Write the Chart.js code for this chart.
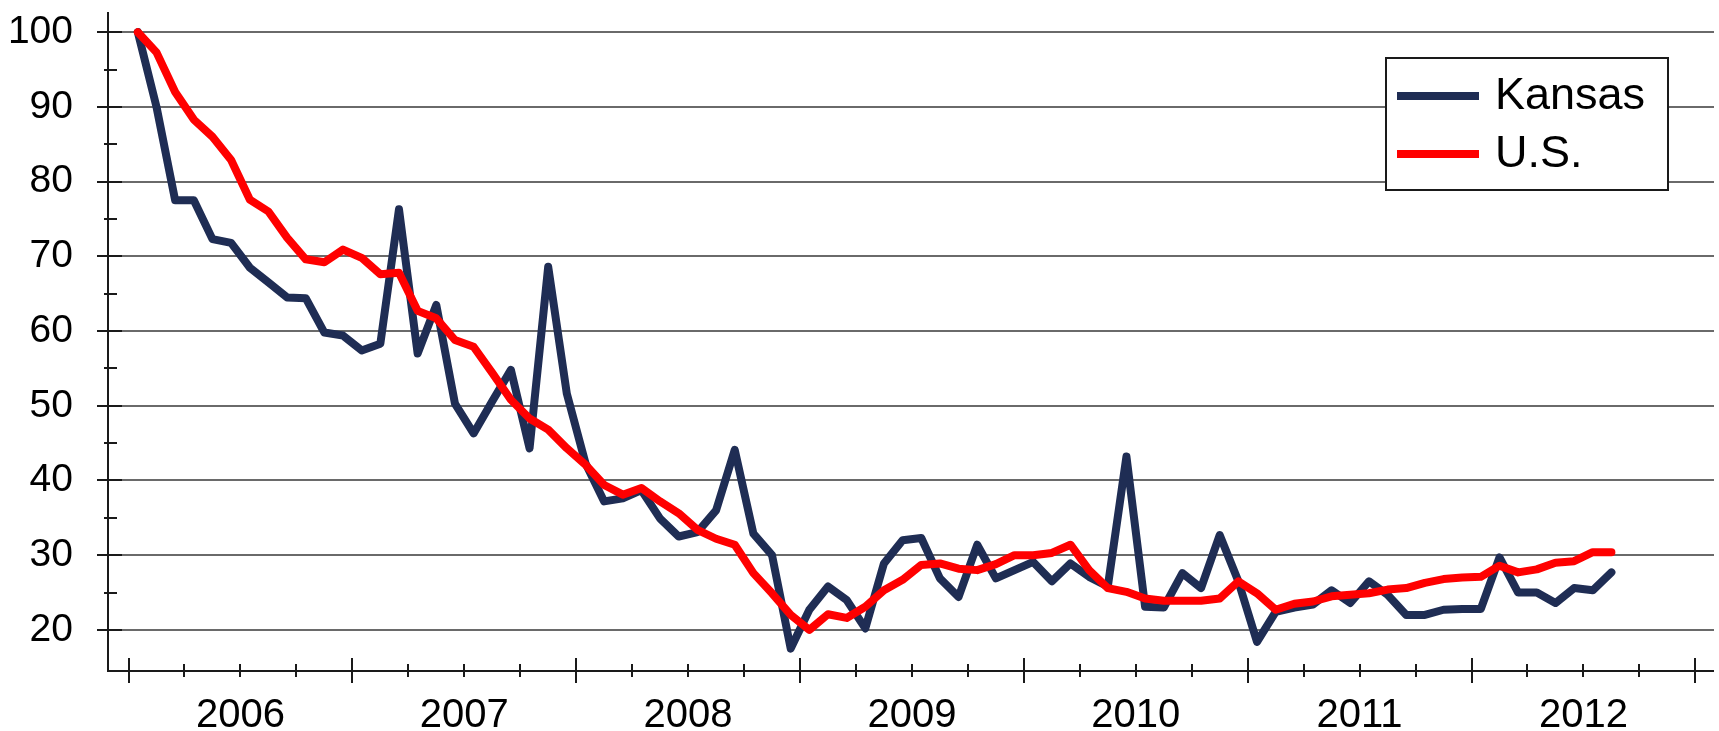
<!DOCTYPE html>
<html>
<head>
<meta charset="utf-8">
<script src="https://cdn.jsdelivr.net/npm/chart.js@4.4.1/dist/chart.umd.min.js"></script>
<style>
  html, body { margin: 0; padding: 0; background: #fff; }
</style>
</head>
<body>
<canvas id="myChart" width="1719" height="731"></canvas>
<script>
// monthly index, Jan 2006 = 100
const years = ['2006', '2007', '2008', '2009', '2010', '2011', '2012'];
const kansas = [
  100, 90, 77.5, 77.5, 72.3, 71.8, 68.5, 66.5, 64.5, 64.4, 59.8, 59.4,
  57.4, 58.3, 76.3, 57, 63.5, 50.3, 46.3, 50.6, 54.8, 44.3, 68.6, 51.6,
  42.3, 37.2, 37.6, 38.7, 34.9, 32.5, 33.1, 36, 44.1, 32.9, 30, 17.5,
  22.7, 25.8, 24, 20.2, 28.9, 32, 32.3, 26.9, 24.4, 31.4, 26.9, 28,
  29.1, 26.5, 28.9, 27.1, 25.8, 43.2, 23.1, 23, 27.6, 25.6, 32.7, 26.5,
  18.4, 22.4, 23, 23.4, 25.3, 23.6, 26.5, 24.7, 22, 22, 22.7, 22.8,
  22.8, 29.7, 25, 25, 23.6, 25.6, 25.3, 27.7
];
const us = [
  100, 97.3, 92, 88.3, 86, 82.9, 77.6, 76, 72.5, 69.6, 69.2, 70.9,
  69.8, 67.6, 67.8, 62.7, 61.7, 58.8, 57.9, 54.4, 50.8, 48.3, 46.8, 44.3,
  42.1, 39.4, 38.1, 39, 37.2, 35.6, 33.4, 32.2, 31.4, 27.6, 24.9, 22,
  20, 22.1, 21.6, 23.1, 25.3, 26.7, 28.7, 28.9, 28.2, 28, 28.8, 30,
  30, 30.3, 31.4, 28, 25.6, 25.1, 24.2, 23.9, 23.9, 23.9, 24.2, 26.5,
  24.9, 22.7, 23.5, 23.8, 24.5, 24.7, 24.9, 25.4, 25.6, 26.3, 26.8, 27,
  27.1, 28.6, 27.7, 28.1, 29, 29.2, 30.4, 30.4
];
const yTicks = [20, 30, 40, 50, 60, 70, 80, 90, 100];
const yMinorTicks = [25, 35, 45, 55, 65, 75, 85, 95];

// month number counted from Jan 2006, plotted mid-month
const toPoints = arr => arr.map((v, i) => ({ x: i + 0.5, y: v }));

const axisPlugin = {
    id: 'axisPlugin',
    afterDraw(chart) {
        const { ctx, chartArea: a, scales: { x, y } } = chart;
        ctx.save();
        ctx.strokeStyle = '#1a1a1a';
        ctx.lineWidth = 2;
        ctx.beginPath();
        ctx.moveTo(a.left, a.top);
        ctx.lineTo(a.left, a.bottom);
        ctx.lineTo(a.right, a.bottom);
        yTicks.forEach(v => {
            const py = Math.round(y.getPixelForValue(v));
            ctx.moveTo(a.left - 11, py);
            ctx.lineTo(a.left + 14, py);
        });
        yMinorTicks.forEach(v => {
            const py = Math.round(y.getPixelForValue(v));
            ctx.moveTo(a.left - 4, py);
            ctx.lineTo(a.left + 9, py);
        });
        // quarterly ticks, long ones at year boundaries
        for (let m = 0; m <= years.length * 12; m += 3) {
            const px = Math.round(x.getPixelForValue(m));
            const major = m % 12 === 0;
            ctx.moveTo(px, a.bottom - (major ? 13 : 7));
            ctx.lineTo(px, a.bottom + (major ? 12 : 6));
        }
        ctx.stroke();

        // legend box
        const bx = 1386, by = 58, bw = 282, bh = 132;
        ctx.fillStyle = '#fff';
        ctx.fillRect(bx, by, bw, bh);
        ctx.strokeStyle = '#1a1a1a';
        ctx.lineWidth = 2;
        ctx.strokeRect(bx, by, bw, bh);
        ctx.font = '45px "Liberation Sans", Arial, sans-serif';
        ctx.textBaseline = 'middle';
        ctx.fillStyle = '#000';
        chart.data.datasets.forEach((ds, i) => {
            const ly = by + 38 + i * 58;
            ctx.strokeStyle = ds.borderColor;
            ctx.lineWidth = 8;
            ctx.beginPath();
            ctx.moveTo(bx + 11, ly);
            ctx.lineTo(bx + 93, ly);
            ctx.stroke();
            ctx.fillText(ds.label, bx + 109, ly + 1);
        });
        ctx.restore();
    }
};

const ctx = document.getElementById('myChart').getContext('2d');
new Chart(ctx, {
    type: 'line',
    data: {
        datasets: [
            {
                label: 'Kansas',
                data: toPoints(kansas),
                borderColor: '#1f2d54',
                borderWidth: 8,
                pointRadius: 0,
                borderJoinStyle: 'round',
                borderCapStyle: 'round',
                order: 1,
            },
            {
                label: 'U.S.',
                data: toPoints(us),
                borderColor: '#ff0000',
                borderWidth: 8,
                pointRadius: 0,
                borderJoinStyle: 'round',
                borderCapStyle: 'round',
                order: 0,
            },
        ],
    },
    options: {
        responsive: false,
        animation: false,
        layout: { padding: { top: 12, right: 5, left: 0, bottom: 0 } },
        plugins: {
            legend: { display: false },
            tooltip: { enabled: false },
        },
        scales: {
            x: {
                type: 'linear',
                min: -1.1,
                max: 85,
                grid: { display: false },
                border: { display: false },
                afterBuildTicks: s => { s.ticks = years.map((_, k) => ({ value: k * 12 + 6 })); },
                afterFit: s => { s.height = 60; s.paddingLeft = 0; s.paddingRight = 0; },
                ticks: {
                    autoSkip: false,
                    maxRotation: 0,
                    padding: 13,
                    color: '#000',
                    font: { family: '"Liberation Sans", Arial, sans-serif', size: 40 },
                    callback: v => years[Math.round((v - 6) / 12)],
                },
            },
            y: {
                min: 14.5,
                max: 102.7,
                afterBuildTicks: s => { s.ticks = yTicks.map(v => ({ value: v })); },
                afterFit: s => { s.width = 108; s.paddingTop = 0; s.paddingBottom = 0; },
                grid: { color: '#6a6a6a', lineWidth: 2, drawTicks: false },
                border: { display: false },
                ticks: {
                    padding: 35,
                    color: '#000',
                    font: { family: '"Liberation Sans", Arial, sans-serif', size: 39 },
                },
            },
        },
    },
    plugins: [axisPlugin],
});
</script>
</body>
</html>
